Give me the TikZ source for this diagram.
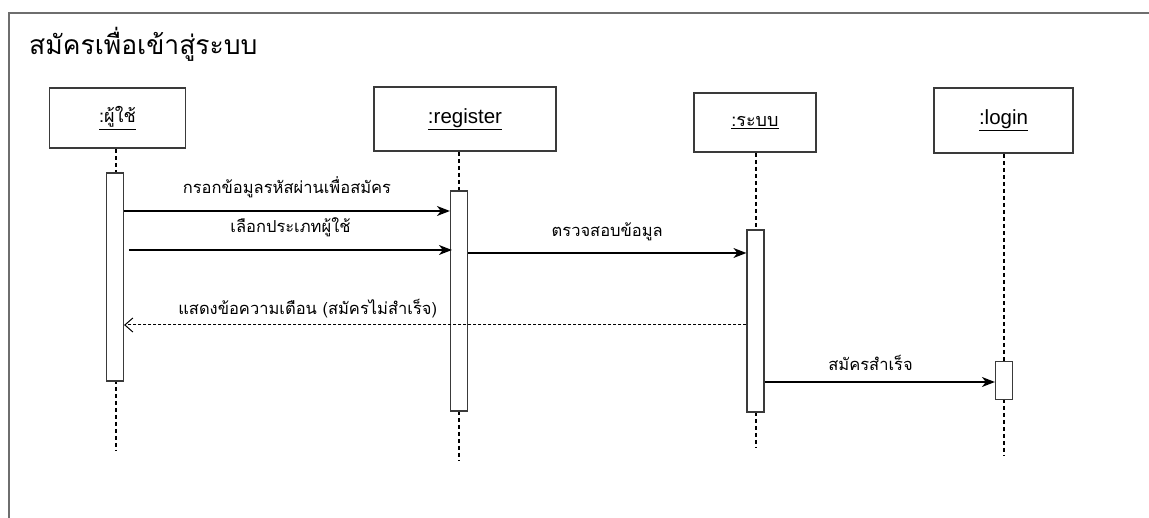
\documentclass[tikz,border=0pt]{standalone}
\usepackage{fontspec}
\setmainfont{Liberation Sans}
\newfontfamily\thaifont[Script=Thai]{Loma}
\usetikzlibrary{arrows.meta}
\definecolor{framegray}{HTML}{6E6E6E}
\definecolor{boxgray}{HTML}{3A3A3A}
\begin{document}
\begin{tikzpicture}[x=1pt,y=-1pt,
  head/.style={draw=boxgray,line width=1.6pt,fill=white,inner sep=0pt,font=\fontsize{20.5}{22}\selectfont},
  bar/.style={draw=boxgray,line width=1.2pt,fill=white,inner sep=0pt,minimum width=17pt},
  life/.style={dash pattern=on 4pt off 3pt,line width=1.2pt},
  msg/.style={line width=1.4pt,-{Stealth[length=13pt,width=10pt,inset=4pt]}},
  back/.style={line width=1pt,dash pattern=on 3pt off 2pt,-{Straight Barb[length=8pt,width=14pt]}},
  lbl/.style={font=\thaifont\fontsize{16.5}{18}\selectfont,inner sep=0pt}]
\useasboundingbox (0,0) rectangle (1149,518);
\draw [framegray,line width=2pt] (1149,13) -- (9,13) -- (9,518);
\node [anchor=west,font=\thaifont\fontsize{26.5}{30}\selectfont,inner sep=0pt] (title) at (29,44) {สมัครเพื่อเข้าสู่ระบบ};
\node [head,minimum width=136pt,minimum height=60pt] (user) at (117.5,118) {\underline{\thaifont\fontsize{18}{20}\selectfont :ผู้ใช้}};
\node [head,minimum width=182pt,minimum height=64pt] (reg) at (465,119) {\underline{:register}};
\node [head,minimum width=122pt,minimum height=59pt] (sys) at (755,122.5) {\underline{\thaifont\fontsize{18}{20}\selectfont :ระบบ}};
\node [head,minimum width=139pt,minimum height=65pt] (login) at (1003.5,120.5) {\underline{:login}};
\coordinate (userend) at (116,451);
\coordinate (regend) at (459,460);
\coordinate (sysend) at (756,447);
\coordinate (loginend) at (1004,455);
\draw [life] (userend |- user.south) -- (userend);
\draw [life] (regend |- reg.south) -- (regend);
\draw [life] (sysend |- sys.south) -- (sysend);
\draw [life] (loginend |- login.south) -- (loginend);
\node [bar,minimum height=208pt] (auser) at (115,277) {};
\node [bar,minimum height=220pt] (areg) at (459,301) {};
\node [bar,minimum height=182pt] (asys) at (755.5,321) {};
\node [bar,minimum height=38pt] (alogin) at (1004,380.5) {};
\coordinate (m1) at (0,211);
\coordinate (m2) at (129,250);
\coordinate (m3) at (0,253);
\coordinate (m4) at (0,325);
\coordinate (m5) at (0,382);
\draw [msg] (auser.east |- m1) -- (areg.west |- m1) node [lbl,midway,above=12pt] {กรอกข้อมูลรหัสผ่านเพื่อสมัคร};
\draw [msg] (m2) -- ([xshift=2pt]areg.west |- m2) node [lbl,midway,above=12pt] {เลือกประเภทผู้ใช้};
\draw [msg] (areg.east |- m3) -- (asys.west |- m3) node [lbl,midway,above=11pt] {ตรวจสอบข้อมูล};
\draw [back] (asys.west |- m4) -- (auser.east |- m4) node [lbl,pos=0.705,above=7pt] {แสดงข้อความเตือน (สมัครไม่สำเร็จ)};
\draw [msg] (asys.east |- m5) -- (alogin.west |- m5) node [lbl,pos=0.46,above=11pt] {สมัครสำเร็จ};
\end{tikzpicture}
\end{document}
